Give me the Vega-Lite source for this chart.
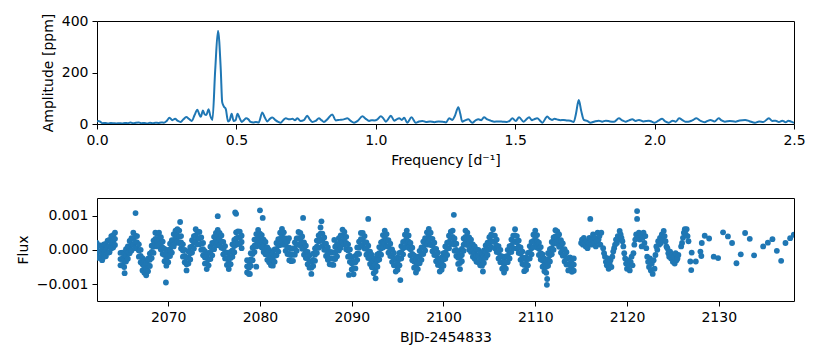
{
  "$schema": "https://vega.github.io/schema/vega-lite/v6.json",
  "padding": {"left": 15, "top": 12, "right": 5, "bottom": 5},
  "spacing": 29,
  "config": {
    "font": "DejaVu Sans",
    "view": {"stroke": "black", "strokeWidth": 1},
    "axis": {"grid": false, "domain": false, "tickColor": "black", "tickSize": 5, "tickWidth": 1, "labelFontSize": 14, "labelColor": "black", "titleFontSize": 14, "titleFontWeight": "normal", "titleColor": "black", "labelPadding": 4, "titlePadding": 6, "labelFlush": false, "labelOverlap": false}
  },
  "datasets": {
    "pg": [
      {"freq":0.000,"amp":8},{"freq":0.005,"amp":12},{"freq":0.010,"amp":10},{"freq":0.015,"amp":6},{"freq":0.020,"amp":3},{"freq":0.030,"amp":4},{"freq":0.040,"amp":2},{"freq":0.050,"amp":4},{"freq":0.060,"amp":3},{"freq":0.070,"amp":2},{"freq":0.080,"amp":3},{"freq":0.090,"amp":2},{"freq":0.100,"amp":4},{"freq":0.110,"amp":3},{"freq":0.120,"amp":6},{"freq":0.130,"amp":3},{"freq":0.140,"amp":5},{"freq":0.150,"amp":6},{"freq":0.160,"amp":3},{"freq":0.170,"amp":4},{"freq":0.180,"amp":2},{"freq":0.190,"amp":5},{"freq":0.200,"amp":3},{"freq":0.210,"amp":5},{"freq":0.220,"amp":4},{"freq":0.230,"amp":6},{"freq":0.240,"amp":5},{"freq":0.250,"amp":12},{"freq":0.260,"amp":24},{"freq":0.270,"amp":15},{"freq":0.280,"amp":20},{"freq":0.290,"amp":12},{"freq":0.300,"amp":8},{"freq":0.310,"amp":18},{"freq":0.320,"amp":27},{"freq":0.330,"amp":20},{"freq":0.340,"amp":12},{"freq":0.350,"amp":35},{"freq":0.360,"amp":55},{"freq":0.366,"amp":40},{"freq":0.372,"amp":28},{"freq":0.380,"amp":52},{"freq":0.386,"amp":38},{"freq":0.392,"amp":35},{"freq":0.400,"amp":57},{"freq":0.407,"amp":30},{"freq":0.414,"amp":16},{"freq":0.424,"amp":210},{"freq":0.434,"amp":362},{"freq":0.444,"amp":210},{"freq":0.449,"amp":85},{"freq":0.455,"amp":68},{"freq":0.462,"amp":58},{"freq":0.470,"amp":10},{"freq":0.476,"amp":15},{"freq":0.483,"amp":40},{"freq":0.490,"amp":12},{"freq":0.497,"amp":15},{"freq":0.504,"amp":40},{"freq":0.512,"amp":22},{"freq":0.519,"amp":8},{"freq":0.527,"amp":15},{"freq":0.535,"amp":22},{"freq":0.543,"amp":18},{"freq":0.551,"amp":8},{"freq":0.560,"amp":6},{"freq":0.570,"amp":8},{"freq":0.580,"amp":6},{"freq":0.593,"amp":45},{"freq":0.602,"amp":25},{"freq":0.611,"amp":10},{"freq":0.620,"amp":20},{"freq":0.629,"amp":25},{"freq":0.640,"amp":15},{"freq":0.650,"amp":8},{"freq":0.659,"amp":5},{"freq":0.668,"amp":15},{"freq":0.677,"amp":22},{"freq":0.690,"amp":18},{"freq":0.701,"amp":20},{"freq":0.710,"amp":15},{"freq":0.719,"amp":22},{"freq":0.730,"amp":12},{"freq":0.742,"amp":15},{"freq":0.754,"amp":32},{"freq":0.763,"amp":18},{"freq":0.772,"amp":8},{"freq":0.784,"amp":12},{"freq":0.796,"amp":22},{"freq":0.805,"amp":15},{"freq":0.814,"amp":8},{"freq":0.826,"amp":18},{"freq":0.844,"amp":37},{"freq":0.856,"amp":14},{"freq":0.870,"amp":16},{"freq":0.885,"amp":18},{"freq":0.898,"amp":22},{"freq":0.910,"amp":12},{"freq":0.922,"amp":5},{"freq":0.935,"amp":12},{"freq":0.952,"amp":30},{"freq":0.964,"amp":20},{"freq":0.976,"amp":12},{"freq":0.985,"amp":15},{"freq":0.994,"amp":14},{"freq":1.006,"amp":18},{"freq":1.018,"amp":30},{"freq":1.027,"amp":22},{"freq":1.036,"amp":9},{"freq":1.045,"amp":20},{"freq":1.054,"amp":32},{"freq":1.066,"amp":13},{"freq":1.075,"amp":18},{"freq":1.084,"amp":22},{"freq":1.093,"amp":16},{"freq":1.102,"amp":24},{"freq":1.113,"amp":5},{"freq":1.128,"amp":26},{"freq":1.143,"amp":5},{"freq":1.155,"amp":10},{"freq":1.167,"amp":12},{"freq":1.180,"amp":8},{"freq":1.195,"amp":10},{"freq":1.210,"amp":7},{"freq":1.225,"amp":10},{"freq":1.240,"amp":9},{"freq":1.252,"amp":6},{"freq":1.263,"amp":22},{"freq":1.275,"amp":16},{"freq":1.283,"amp":30},{"freq":1.296,"amp":65},{"freq":1.303,"amp":40},{"freq":1.310,"amp":9},{"freq":1.320,"amp":14},{"freq":1.332,"amp":18},{"freq":1.346,"amp":5},{"freq":1.358,"amp":14},{"freq":1.368,"amp":18},{"freq":1.378,"amp":15},{"freq":1.388,"amp":26},{"freq":1.400,"amp":18},{"freq":1.412,"amp":13},{"freq":1.425,"amp":9},{"freq":1.440,"amp":10},{"freq":1.455,"amp":9},{"freq":1.470,"amp":8},{"freq":1.480,"amp":12},{"freq":1.490,"amp":22},{"freq":1.502,"amp":12},{"freq":1.514,"amp":26},{"freq":1.530,"amp":9},{"freq":1.540,"amp":18},{"freq":1.550,"amp":26},{"freq":1.560,"amp":15},{"freq":1.567,"amp":18},{"freq":1.579,"amp":22},{"freq":1.590,"amp":12},{"freq":1.597,"amp":5},{"freq":1.615,"amp":29},{"freq":1.624,"amp":20},{"freq":1.632,"amp":16},{"freq":1.641,"amp":20},{"freq":1.650,"amp":18},{"freq":1.662,"amp":15},{"freq":1.674,"amp":16},{"freq":1.686,"amp":14},{"freq":1.698,"amp":13},{"freq":1.710,"amp":8},{"freq":1.718,"amp":40},{"freq":1.728,"amp":93},{"freq":1.737,"amp":50},{"freq":1.746,"amp":16},{"freq":1.758,"amp":12},{"freq":1.770,"amp":5},{"freq":1.785,"amp":10},{"freq":1.800,"amp":13},{"freq":1.812,"amp":9},{"freq":1.825,"amp":13},{"freq":1.840,"amp":10},{"freq":1.855,"amp":9},{"freq":1.872,"amp":22},{"freq":1.884,"amp":14},{"freq":1.896,"amp":9},{"freq":1.908,"amp":14},{"freq":1.920,"amp":18},{"freq":1.932,"amp":12},{"freq":1.944,"amp":16},{"freq":1.960,"amp":10},{"freq":1.980,"amp":13},{"freq":1.990,"amp":9},{"freq":2.000,"amp":5},{"freq":2.014,"amp":13},{"freq":2.027,"amp":20},{"freq":2.038,"amp":10},{"freq":2.050,"amp":5},{"freq":2.065,"amp":13},{"freq":2.076,"amp":9},{"freq":2.088,"amp":22},{"freq":2.100,"amp":15},{"freq":2.110,"amp":9},{"freq":2.120,"amp":9},{"freq":2.135,"amp":14},{"freq":2.150,"amp":22},{"freq":2.165,"amp":12},{"freq":2.180,"amp":7},{"freq":2.190,"amp":12},{"freq":2.200,"amp":16},{"freq":2.215,"amp":10},{"freq":2.230,"amp":22},{"freq":2.240,"amp":14},{"freq":2.252,"amp":9},{"freq":2.270,"amp":12},{"freq":2.290,"amp":9},{"freq":2.305,"amp":14},{"freq":2.325,"amp":16},{"freq":2.340,"amp":11},{"freq":2.360,"amp":5},{"freq":2.375,"amp":10},{"freq":2.390,"amp":8},{"freq":2.410,"amp":22},{"freq":2.422,"amp":12},{"freq":2.434,"amp":13},{"freq":2.446,"amp":8},{"freq":2.458,"amp":13},{"freq":2.470,"amp":7},{"freq":2.480,"amp":13},{"freq":2.490,"amp":9},{"freq":2.500,"amp":5}
    ],
    "lc": [
      {"t":2062.2,"flux":0.0002},{"t":2062.2,"flux":0.00002},{"t":2062.2,"flux":-0.00016},
      {"t":2062.4,"flux":0.00013},{"t":2062.4,"flux":-0.00005},{"t":2062.4,"flux":-0.00023},
      {"t":2062.6,"flux":0.00013},{"t":2062.6,"flux":-0.00005},{"t":2062.6,"flux":-0.00023},
      {"t":2062.8,"flux":0.00006},{"t":2062.8,"flux":-0.00012},{"t":2062.8,"flux":-0.0003},
      {"t":2063.0,"flux":0.00016},{"t":2063.0,"flux":-0.00002},{"t":2063.0,"flux":-0.0002},
      {"t":2063.2,"flux":0.00017},{"t":2063.2,"flux":-0.00001},{"t":2063.2,"flux":-0.00019},
      {"t":2063.4,"flux":0.00027},{"t":2063.4,"flux":0.00009},{"t":2063.4,"flux":-0.00009},
      {"t":2063.6,"flux":0.00029},{"t":2063.6,"flux":0.00011},{"t":2063.6,"flux":-0.00007},
      {"t":2063.8,"flux":0.0004},{"t":2063.8,"flux":0.00022},{"t":2063.8,"flux":0.00004},
      {"t":2064.0,"flux":0.00043},{"t":2064.0,"flux":0.00025},{"t":2064.0,"flux":0.00007},
      {"t":2064.2,"flux":0.0005},{"t":2064.2,"flux":0.00032},{"t":2064.2,"flux":0.00014},
      {"t":2064.8,"flux":-0.00009},{"t":2064.8,"flux":-0.00027},{"t":2064.8,"flux":-0.00045},
      {"t":2065.0,"flux":-0.00008},{"t":2065.0,"flux":-0.00026},{"t":2065.0,"flux":-0.00044},
      {"t":2065.2,"flux":-0.00014},{"t":2065.2,"flux":-0.00032},{"t":2065.2,"flux":-0.0005},
      {"t":2065.4,"flux":0.00002},{"t":2065.4,"flux":-0.00016},{"t":2065.4,"flux":-0.00034},
      {"t":2065.6,"flux":0.0001},{"t":2065.6,"flux":-0.00008},{"t":2065.6,"flux":-0.00026},
      {"t":2065.8,"flux":0.00026},{"t":2065.8,"flux":0.00008},{"t":2065.8,"flux":-0.0001},
      {"t":2066.0,"flux":0.00034},{"t":2066.0,"flux":0.00016},{"t":2066.0,"flux":-0.00002},
      {"t":2066.2,"flux":0.0005},{"t":2066.2,"flux":0.00032},{"t":2066.2,"flux":0.00014},
      {"t":2066.4,"flux":0.00041},{"t":2066.4,"flux":0.00023},{"t":2066.4,"flux":0.00005},
      {"t":2066.6,"flux":0.0004},{"t":2066.6,"flux":0.00022},{"t":2066.6,"flux":0.00004},
      {"t":2066.8,"flux":0.00016},{"t":2066.8,"flux":-0.00002},{"t":2066.8,"flux":-0.0002},
      {"t":2067.0,"flux":0},{"t":2067.0,"flux":-0.00018},{"t":2067.0,"flux":-0.00036},
      {"t":2067.2,"flux":-0.00024},{"t":2067.2,"flux":-0.00042},{"t":2067.2,"flux":-0.0006},
      {"t":2067.4,"flux":-0.00031},{"t":2067.4,"flux":-0.00049},{"t":2067.4,"flux":-0.00067},
      {"t":2067.6,"flux":-0.00038},{"t":2067.6,"flux":-0.00056},{"t":2067.6,"flux":-0.00074},
      {"t":2067.8,"flux":-0.00026},{"t":2067.8,"flux":-0.00044},{"t":2067.8,"flux":-0.00062},
      {"t":2068.0,"flux":-0.00011},{"t":2068.0,"flux":-0.00029},{"t":2068.0,"flux":-0.00047},
      {"t":2068.2,"flux":0.00012},{"t":2068.2,"flux":-0.00006},{"t":2068.2,"flux":-0.00024},
      {"t":2068.4,"flux":0.00027},{"t":2068.4,"flux":0.00009},{"t":2068.4,"flux":-0.00009},
      {"t":2068.6,"flux":0.0005},{"t":2068.6,"flux":0.00032},{"t":2068.6,"flux":0.00014},
      {"t":2068.8,"flux":0.00046},{"t":2068.8,"flux":0.00028},{"t":2068.8,"flux":0.0001},
      {"t":2069.0,"flux":0.0005},{"t":2069.0,"flux":0.00032},{"t":2069.0,"flux":0.00014},
      {"t":2069.2,"flux":0.00037},{"t":2069.2,"flux":0.00019},{"t":2069.2,"flux":0.00001},
      {"t":2069.4,"flux":0.00024},{"t":2069.4,"flux":0.00006},{"t":2069.4,"flux":-0.00012},
      {"t":2069.6,"flux":0.00003},{"t":2069.6,"flux":-0.00015},{"t":2069.6,"flux":-0.00033},
      {"t":2069.8,"flux":-0.0001},{"t":2069.8,"flux":-0.00028},{"t":2069.8,"flux":-0.00046},
      {"t":2070.0,"flux":0},{"t":2070.0,"flux":-0.00018},{"t":2070.0,"flux":-0.00036},
      {"t":2070.2,"flux":0.00018},{"t":2070.2,"flux":0},{"t":2070.2,"flux":-0.00018},
      {"t":2070.4,"flux":0.00028},{"t":2070.4,"flux":0.0001},{"t":2070.4,"flux":-0.00008},
      {"t":2070.6,"flux":0.00046},{"t":2070.6,"flux":0.00028},{"t":2070.6,"flux":0.0001},
      {"t":2070.8,"flux":0.00056},{"t":2070.8,"flux":0.00038},{"t":2070.8,"flux":0.0002},
      {"t":2071.0,"flux":0.0006},{"t":2071.0,"flux":0.00042},{"t":2071.0,"flux":0.00024},
      {"t":2071.2,"flux":0.00056},{"t":2071.2,"flux":0.00038},{"t":2071.2,"flux":0.0002},
      {"t":2071.4,"flux":0.0004},{"t":2071.4,"flux":0.00022},{"t":2071.4,"flux":0.00004},
      {"t":2071.6,"flux":0.00016},{"t":2071.6,"flux":-0.00002},{"t":2071.6,"flux":-0.0002},
      {"t":2071.8,"flux":0},{"t":2071.8,"flux":-0.00018},{"t":2071.8,"flux":-0.00036},
      {"t":2072.0,"flux":-0.00024},{"t":2072.0,"flux":-0.00042},{"t":2072.0,"flux":-0.0006},
      {"t":2072.2,"flux":-0.00004},{"t":2072.2,"flux":-0.00022},{"t":2072.2,"flux":-0.0004},
      {"t":2072.4,"flux":0.00008},{"t":2072.4,"flux":-0.0001},{"t":2072.4,"flux":-0.00028},
      {"t":2072.6,"flux":0.00028},{"t":2072.6,"flux":0.0001},{"t":2072.6,"flux":-0.00008},
      {"t":2072.8,"flux":0.0004},{"t":2072.8,"flux":0.00022},{"t":2072.8,"flux":0.00004},
      {"t":2073.0,"flux":0.0006},{"t":2073.0,"flux":0.00042},{"t":2073.0,"flux":0.00024},
      {"t":2073.2,"flux":0.00052},{"t":2073.2,"flux":0.00034},{"t":2073.2,"flux":0.00016},
      {"t":2073.4,"flux":0.00052},{"t":2073.4,"flux":0.00034},{"t":2073.4,"flux":0.00016},
      {"t":2073.6,"flux":0.00036},{"t":2073.6,"flux":0.00018},{"t":2073.6,"flux":0},
      {"t":2073.8,"flux":0.0002},{"t":2073.8,"flux":0.00002},{"t":2073.8,"flux":-0.00016},
      {"t":2074.0,"flux":-0.00004},{"t":2074.0,"flux":-0.00022},{"t":2074.0,"flux":-0.0004},
      {"t":2074.2,"flux":-0.0002},{"t":2074.2,"flux":-0.00038},{"t":2074.2,"flux":-0.00056},
      {"t":2074.4,"flux":-0.00009},{"t":2074.4,"flux":-0.00027},{"t":2074.4,"flux":-0.00045},
      {"t":2074.6,"flux":0.00009},{"t":2074.6,"flux":-0.00009},{"t":2074.6,"flux":-0.00027},
      {"t":2074.8,"flux":0.0002},{"t":2074.8,"flux":0.00002},{"t":2074.8,"flux":-0.00016},
      {"t":2075.0,"flux":0.00038},{"t":2075.0,"flux":0.0002},{"t":2075.0,"flux":0.00002},
      {"t":2075.2,"flux":0.00049},{"t":2075.2,"flux":0.00031},{"t":2075.2,"flux":0.00013},
      {"t":2075.4,"flux":0.00058},{"t":2075.4,"flux":0.0004},{"t":2075.4,"flux":0.00022},
      {"t":2075.6,"flux":0.00049},{"t":2075.6,"flux":0.00031},{"t":2075.6,"flux":0.00013},
      {"t":2075.8,"flux":0.00042},{"t":2075.8,"flux":0.00024},{"t":2075.8,"flux":0.00006},
      {"t":2076.0,"flux":0.00023},{"t":2076.0,"flux":0.00005},{"t":2076.0,"flux":-0.00013},
      {"t":2076.2,"flux":0.00011},{"t":2076.2,"flux":-0.00007},{"t":2076.2,"flux":-0.00025},
      {"t":2076.4,"flux":-0.00008},{"t":2076.4,"flux":-0.00026},{"t":2076.4,"flux":-0.00044},
      {"t":2076.6,"flux":-0.0002},{"t":2076.6,"flux":-0.00038},{"t":2076.6,"flux":-0.00056},
      {"t":2076.8,"flux":-0.00006},{"t":2076.8,"flux":-0.00024},{"t":2076.8,"flux":-0.00042},
      {"t":2077.0,"flux":0.00016},{"t":2077.0,"flux":-0.00002},{"t":2077.0,"flux":-0.0002},
      {"t":2077.2,"flux":0.00029},{"t":2077.2,"flux":0.00011},{"t":2077.2,"flux":-0.00007},
      {"t":2077.4,"flux":0.00051},{"t":2077.4,"flux":0.00033},{"t":2077.4,"flux":0.00015},
      {"t":2077.6,"flux":0.00054},{"t":2077.6,"flux":0.00036},{"t":2077.6,"flux":0.00018},
      {"t":2077.8,"flux":0.00053},{"t":2077.8,"flux":0.00035},{"t":2077.8,"flux":0.00017},
      {"t":2078.0,"flux":0.00041},{"t":2078.0,"flux":0.00023},{"t":2078.0,"flux":0.00005},
      {"t":2078.6,"flux":-0.0003},{"t":2078.6,"flux":-0.00048},{"t":2078.6,"flux":-0.00066},
      {"t":2078.8,"flux":-0.00034},{"t":2078.8,"flux":-0.00052},{"t":2078.8,"flux":-0.0007},
      {"t":2079.0,"flux":-0.0001},{"t":2079.0,"flux":-0.00028},{"t":2079.0,"flux":-0.00046},
      {"t":2079.2,"flux":0.00006},{"t":2079.2,"flux":-0.00012},{"t":2079.2,"flux":-0.0003},
      {"t":2079.4,"flux":0.0003},{"t":2079.4,"flux":0.00012},{"t":2079.4,"flux":-0.00006},
      {"t":2079.6,"flux":0.00046},{"t":2079.6,"flux":0.00028},{"t":2079.6,"flux":0.0001},
      {"t":2079.8,"flux":0.00058},{"t":2079.8,"flux":0.0004},{"t":2079.8,"flux":0.00022},
      {"t":2080.0,"flux":0.00047},{"t":2080.0,"flux":0.00029},{"t":2080.0,"flux":0.00011},
      {"t":2080.2,"flux":0.00043},{"t":2080.2,"flux":0.00025},{"t":2080.2,"flux":0.00007},
      {"t":2080.4,"flux":0.0003},{"t":2080.4,"flux":0.00012},{"t":2080.4,"flux":-0.00006},
      {"t":2080.6,"flux":0.00023},{"t":2080.6,"flux":0.00005},{"t":2080.6,"flux":-0.00013},
      {"t":2080.8,"flux":0.00007},{"t":2080.8,"flux":-0.00011},{"t":2080.8,"flux":-0.00029},
      {"t":2081.0,"flux":0},{"t":2081.0,"flux":-0.00018},{"t":2081.0,"flux":-0.00036},
      {"t":2081.2,"flux":-0.00009},{"t":2081.2,"flux":-0.00027},{"t":2081.2,"flux":-0.00045},
      {"t":2081.4,"flux":-0.0001},{"t":2081.4,"flux":-0.00028},{"t":2081.4,"flux":-0.00046},
      {"t":2081.6,"flux":0.00001},{"t":2081.6,"flux":-0.00017},{"t":2081.6,"flux":-0.00035},
      {"t":2081.8,"flux":0.0002},{"t":2081.8,"flux":0.00002},{"t":2081.8,"flux":-0.00016},
      {"t":2082.0,"flux":0.00031},{"t":2082.0,"flux":0.00013},{"t":2082.0,"flux":-0.00005},
      {"t":2082.2,"flux":0.0005},{"t":2082.2,"flux":0.00032},{"t":2082.2,"flux":0.00014},
      {"t":2082.4,"flux":0.00061},{"t":2082.4,"flux":0.00043},{"t":2082.4,"flux":0.00025},
      {"t":2082.6,"flux":0.00051},{"t":2082.6,"flux":0.00033},{"t":2082.6,"flux":0.00015},
      {"t":2082.8,"flux":0.00033},{"t":2082.8,"flux":0.00015},{"t":2082.8,"flux":-0.00003},
      {"t":2083.0,"flux":0.00024},{"t":2083.0,"flux":0.00006},{"t":2083.0,"flux":-0.00012},
      {"t":2083.2,"flux":0.00006},{"t":2083.2,"flux":-0.00012},{"t":2083.2,"flux":-0.0003},
      {"t":2083.4,"flux":0.00003},{"t":2083.4,"flux":-0.00015},{"t":2083.4,"flux":-0.00033},
      {"t":2083.6,"flux":0.00004},{"t":2083.6,"flux":-0.00014},{"t":2083.6,"flux":-0.00032},
      {"t":2083.8,"flux":0.00022},{"t":2083.8,"flux":0.00004},{"t":2083.8,"flux":-0.00014},
      {"t":2084.0,"flux":0.00033},{"t":2084.0,"flux":0.00015},{"t":2084.0,"flux":-0.00003},
      {"t":2084.2,"flux":0.00052},{"t":2084.2,"flux":0.00034},{"t":2084.2,"flux":0.00016},
      {"t":2084.4,"flux":0.00049},{"t":2084.4,"flux":0.00031},{"t":2084.4,"flux":0.00013},
      {"t":2084.6,"flux":0.00039},{"t":2084.6,"flux":0.00021},{"t":2084.6,"flux":0.00003},
      {"t":2084.8,"flux":0.00022},{"t":2084.8,"flux":0.00004},{"t":2084.8,"flux":-0.00014},
      {"t":2085.0,"flux":0.00012},{"t":2085.0,"flux":-0.00006},{"t":2085.0,"flux":-0.00024},
      {"t":2085.2,"flux":-0.00006},{"t":2085.2,"flux":-0.00024},{"t":2085.2,"flux":-0.00042},
      {"t":2085.4,"flux":-0.00016},{"t":2085.4,"flux":-0.00034},{"t":2085.4,"flux":-0.00052},
      {"t":2085.6,"flux":-0.00034},{"t":2085.6,"flux":-0.00052},{"t":2085.6,"flux":-0.0007},
      {"t":2085.8,"flux":-0.00011},{"t":2085.8,"flux":-0.00029},{"t":2085.8,"flux":-0.00047},
      {"t":2086.0,"flux":0.00004},{"t":2086.0,"flux":-0.00014},{"t":2086.0,"flux":-0.00032},
      {"t":2086.2,"flux":0.00027},{"t":2086.2,"flux":0.00009},{"t":2086.2,"flux":-0.00009},
      {"t":2086.4,"flux":0.00042},{"t":2086.4,"flux":0.00024},{"t":2086.4,"flux":0.00006},
      {"t":2086.6,"flux":0.00065},{"t":2086.6,"flux":0.00047},{"t":2086.6,"flux":0.00029},
      {"t":2086.8,"flux":0.00047},{"t":2086.8,"flux":0.00029},{"t":2086.8,"flux":0.00011},
      {"t":2087.0,"flux":0.00036},{"t":2087.0,"flux":0.00018},{"t":2087.0,"flux":0},
      {"t":2087.2,"flux":0.00018},{"t":2087.2,"flux":0},{"t":2087.2,"flux":-0.00018},
      {"t":2087.4,"flux":0.00007},{"t":2087.4,"flux":-0.00011},{"t":2087.4,"flux":-0.00029},
      {"t":2087.6,"flux":-0.00006},{"t":2087.6,"flux":-0.00024},{"t":2087.6,"flux":-0.00042},
      {"t":2087.8,"flux":-0.00007},{"t":2087.8,"flux":-0.00025},{"t":2087.8,"flux":-0.00043},
      {"t":2088.0,"flux":-0.00008},{"t":2088.0,"flux":-0.00026},{"t":2088.0,"flux":-0.00044},
      {"t":2088.2,"flux":0.00009},{"t":2088.2,"flux":-0.00009},{"t":2088.2,"flux":-0.00027},
      {"t":2088.4,"flux":0.00017},{"t":2088.4,"flux":-0.00001},{"t":2088.4,"flux":-0.00019},
      {"t":2088.6,"flux":0.00034},{"t":2088.6,"flux":0.00016},{"t":2088.6,"flux":-0.00002},
      {"t":2088.8,"flux":0.00042},{"t":2088.8,"flux":0.00024},{"t":2088.8,"flux":0.00006},
      {"t":2089.0,"flux":0.00059},{"t":2089.0,"flux":0.00041},{"t":2089.0,"flux":0.00023},
      {"t":2089.2,"flux":0.00052},{"t":2089.2,"flux":0.00034},{"t":2089.2,"flux":0.00016},
      {"t":2089.4,"flux":0.00038},{"t":2089.4,"flux":0.0002},{"t":2089.4,"flux":0.00002},
      {"t":2089.6,"flux":0.00016},{"t":2089.6,"flux":-0.00002},{"t":2089.6,"flux":-0.0002},
      {"t":2089.8,"flux":0.00001},{"t":2089.8,"flux":-0.00017},{"t":2089.8,"flux":-0.00035},
      {"t":2090.0,"flux":-0.00021},{"t":2090.0,"flux":-0.00039},{"t":2090.0,"flux":-0.00057},
      {"t":2090.2,"flux":-0.00035},{"t":2090.2,"flux":-0.00053},{"t":2090.2,"flux":-0.00071},
      {"t":2090.4,"flux":-0.00018},{"t":2090.4,"flux":-0.00036},{"t":2090.4,"flux":-0.00054},
      {"t":2090.6,"flux":0.00007},{"t":2090.6,"flux":-0.00011},{"t":2090.6,"flux":-0.00029},
      {"t":2090.8,"flux":0.00024},{"t":2090.8,"flux":0.00006},{"t":2090.8,"flux":-0.00012},
      {"t":2091.0,"flux":0.00049},{"t":2091.0,"flux":0.00031},{"t":2091.0,"flux":0.00013},
      {"t":2091.2,"flux":0.00049},{"t":2091.2,"flux":0.00031},{"t":2091.2,"flux":0.00013},
      {"t":2091.4,"flux":0.0004},{"t":2091.4,"flux":0.00022},{"t":2091.4,"flux":0.00004},
      {"t":2091.6,"flux":0.00022},{"t":2091.6,"flux":0.00004},{"t":2091.6,"flux":-0.00014},
      {"t":2091.8,"flux":0.00012},{"t":2091.8,"flux":-0.00006},{"t":2091.8,"flux":-0.00024},
      {"t":2092.0,"flux":-0.00005},{"t":2092.0,"flux":-0.00023},{"t":2092.0,"flux":-0.00041},
      {"t":2092.2,"flux":-0.00015},{"t":2092.2,"flux":-0.00033},{"t":2092.2,"flux":-0.00051},
      {"t":2092.4,"flux":-0.00032},{"t":2092.4,"flux":-0.0005},{"t":2092.4,"flux":-0.00068},
      {"t":2092.6,"flux":-0.00026},{"t":2092.6,"flux":-0.00044},{"t":2092.6,"flux":-0.00062},
      {"t":2092.8,"flux":-0.00013},{"t":2092.8,"flux":-0.00031},{"t":2092.8,"flux":-0.00049},
      {"t":2093.0,"flux":0.00008},{"t":2093.0,"flux":-0.0001},{"t":2093.0,"flux":-0.00028},
      {"t":2093.2,"flux":0.00022},{"t":2093.2,"flux":0.00004},{"t":2093.2,"flux":-0.00014},
      {"t":2093.4,"flux":0.00043},{"t":2093.4,"flux":0.00025},{"t":2093.4,"flux":0.00007},
      {"t":2093.6,"flux":0.00056},{"t":2093.6,"flux":0.00038},{"t":2093.6,"flux":0.0002},
      {"t":2093.8,"flux":0.00046},{"t":2093.8,"flux":0.00028},{"t":2093.8,"flux":0.0001},
      {"t":2094.0,"flux":0.00028},{"t":2094.0,"flux":0.0001},{"t":2094.0,"flux":-0.00008},
      {"t":2094.2,"flux":0.00018},{"t":2094.2,"flux":0},{"t":2094.2,"flux":-0.00018},
      {"t":2094.4,"flux":0.00001},{"t":2094.4,"flux":-0.00017},{"t":2094.4,"flux":-0.00035},
      {"t":2094.6,"flux":-0.00009},{"t":2094.6,"flux":-0.00027},{"t":2094.6,"flux":-0.00045},
      {"t":2094.8,"flux":-0.00027},{"t":2094.8,"flux":-0.00045},{"t":2094.8,"flux":-0.00063},
      {"t":2095.0,"flux":-0.00022},{"t":2095.0,"flux":-0.0004},{"t":2095.0,"flux":-0.00058},
      {"t":2095.2,"flux":-0.00009},{"t":2095.2,"flux":-0.00027},{"t":2095.2,"flux":-0.00045},
      {"t":2095.4,"flux":0.00011},{"t":2095.4,"flux":-0.00007},{"t":2095.4,"flux":-0.00025},
      {"t":2095.6,"flux":0.00023},{"t":2095.6,"flux":0.00005},{"t":2095.6,"flux":-0.00013},
      {"t":2095.8,"flux":0.00044},{"t":2095.8,"flux":0.00026},{"t":2095.8,"flux":0.00008},
      {"t":2096.0,"flux":0.00056},{"t":2096.0,"flux":0.00038},{"t":2096.0,"flux":0.0002},
      {"t":2096.2,"flux":0.00042},{"t":2096.2,"flux":0.00024},{"t":2096.2,"flux":0.00006},
      {"t":2096.4,"flux":0.0002},{"t":2096.4,"flux":0.00002},{"t":2096.4,"flux":-0.00016},
      {"t":2096.6,"flux":0.00006},{"t":2096.6,"flux":-0.00012},{"t":2096.6,"flux":-0.0003},
      {"t":2096.8,"flux":-0.00016},{"t":2096.8,"flux":-0.00034},{"t":2096.8,"flux":-0.00052},
      {"t":2097.0,"flux":-0.0003},{"t":2097.0,"flux":-0.00048},{"t":2097.0,"flux":-0.00066},
      {"t":2097.2,"flux":-0.0002},{"t":2097.2,"flux":-0.00038},{"t":2097.2,"flux":-0.00056},
      {"t":2097.4,"flux":-0.00003},{"t":2097.4,"flux":-0.00021},{"t":2097.4,"flux":-0.00039},
      {"t":2097.6,"flux":0.00007},{"t":2097.6,"flux":-0.00011},{"t":2097.6,"flux":-0.00029},
      {"t":2097.8,"flux":0.00024},{"t":2097.8,"flux":0.00006},{"t":2097.8,"flux":-0.00012},
      {"t":2098.0,"flux":0.00034},{"t":2098.0,"flux":0.00016},{"t":2098.0,"flux":-0.00002},
      {"t":2098.2,"flux":0.00051},{"t":2098.2,"flux":0.00033},{"t":2098.2,"flux":0.00015},
      {"t":2098.4,"flux":0.00061},{"t":2098.4,"flux":0.00043},{"t":2098.4,"flux":0.00025},
      {"t":2098.6,"flux":0.0005},{"t":2098.6,"flux":0.00032},{"t":2098.6,"flux":0.00014},
      {"t":2098.8,"flux":0.00032},{"t":2098.8,"flux":0.00014},{"t":2098.8,"flux":-0.00004},
      {"t":2099.0,"flux":0.00021},{"t":2099.0,"flux":0.00003},{"t":2099.0,"flux":-0.00015},
      {"t":2099.2,"flux":0.00003},{"t":2099.2,"flux":-0.00015},{"t":2099.2,"flux":-0.00033},
      {"t":2099.4,"flux":-0.00008},{"t":2099.4,"flux":-0.00026},{"t":2099.4,"flux":-0.00044},
      {"t":2099.6,"flux":-0.00027},{"t":2099.6,"flux":-0.00045},{"t":2099.6,"flux":-0.00063},
      {"t":2099.8,"flux":-0.00022},{"t":2099.8,"flux":-0.0004},{"t":2099.8,"flux":-0.00058},
      {"t":2100.0,"flux":-0.0001},{"t":2100.0,"flux":-0.00028},{"t":2100.0,"flux":-0.00046},
      {"t":2100.2,"flux":0.0001},{"t":2100.2,"flux":-0.00008},{"t":2100.2,"flux":-0.00026},
      {"t":2100.4,"flux":0.00021},{"t":2100.4,"flux":0.00003},{"t":2100.4,"flux":-0.00015},
      {"t":2100.6,"flux":0.00041},{"t":2100.6,"flux":0.00023},{"t":2100.6,"flux":0.00005},
      {"t":2100.8,"flux":0.00053},{"t":2100.8,"flux":0.00035},{"t":2100.8,"flux":0.00017},
      {"t":2101.0,"flux":0.00056},{"t":2101.0,"flux":0.00038},{"t":2101.0,"flux":0.0002},
      {"t":2101.2,"flux":0.00033},{"t":2101.2,"flux":0.00015},{"t":2101.2,"flux":-0.00003},
      {"t":2101.4,"flux":0.00018},{"t":2101.4,"flux":0},{"t":2101.4,"flux":-0.00018},
      {"t":2101.6,"flux":-0.00005},{"t":2101.6,"flux":-0.00023},{"t":2101.6,"flux":-0.00041},
      {"t":2101.8,"flux":-0.0002},{"t":2101.8,"flux":-0.00038},{"t":2101.8,"flux":-0.00056},
      {"t":2102.0,"flux":0.00003},{"t":2102.0,"flux":-0.00015},{"t":2102.0,"flux":-0.00033},
      {"t":2102.2,"flux":0.00033},{"t":2102.2,"flux":0.00015},{"t":2102.2,"flux":-0.00003},
      {"t":2102.4,"flux":0.00056},{"t":2102.4,"flux":0.00038},{"t":2102.4,"flux":0.0002},
      {"t":2102.6,"flux":0.0005},{"t":2102.6,"flux":0.00032},{"t":2102.6,"flux":0.00014},
      {"t":2102.8,"flux":0.00036},{"t":2102.8,"flux":0.00018},{"t":2102.8,"flux":0},
      {"t":2103.0,"flux":0.0003},{"t":2103.0,"flux":0.00012},{"t":2103.0,"flux":-0.00006},
      {"t":2103.2,"flux":0.00016},{"t":2103.2,"flux":-0.00002},{"t":2103.2,"flux":-0.0002},
      {"t":2103.4,"flux":0.0001},{"t":2103.4,"flux":-0.00008},{"t":2103.4,"flux":-0.00026},
      {"t":2103.6,"flux":0.00001},{"t":2103.6,"flux":-0.00017},{"t":2103.6,"flux":-0.00035},
      {"t":2103.8,"flux":0},{"t":2103.8,"flux":-0.00018},{"t":2103.8,"flux":-0.00036},
      {"t":2104.0,"flux":-0.00009},{"t":2104.0,"flux":-0.00027},{"t":2104.0,"flux":-0.00045},
      {"t":2104.2,"flux":-0.0001},{"t":2104.2,"flux":-0.00028},{"t":2104.2,"flux":-0.00046},
      {"t":2104.4,"flux":-0.00002},{"t":2104.4,"flux":-0.0002},{"t":2104.4,"flux":-0.00038},
      {"t":2104.6,"flux":0.00013},{"t":2104.6,"flux":-0.00005},{"t":2104.6,"flux":-0.00023},
      {"t":2104.8,"flux":0.00021},{"t":2104.8,"flux":0.00003},{"t":2104.8,"flux":-0.00015},
      {"t":2105.0,"flux":0.00037},{"t":2105.0,"flux":0.00019},{"t":2105.0,"flux":0.00001},
      {"t":2105.2,"flux":0.00044},{"t":2105.2,"flux":0.00026},{"t":2105.2,"flux":0.00008},
      {"t":2105.4,"flux":0.0006},{"t":2105.4,"flux":0.00042},{"t":2105.4,"flux":0.00024},
      {"t":2105.6,"flux":0.00041},{"t":2105.6,"flux":0.00023},{"t":2105.6,"flux":0.00005},
      {"t":2105.8,"flux":0.0003},{"t":2105.8,"flux":0.00012},{"t":2105.8,"flux":-0.00006},
      {"t":2106.0,"flux":0.00011},{"t":2106.0,"flux":-0.00007},{"t":2106.0,"flux":-0.00025},
      {"t":2106.2,"flux":0},{"t":2106.2,"flux":-0.00018},{"t":2106.2,"flux":-0.00036},
      {"t":2106.4,"flux":-0.00019},{"t":2106.4,"flux":-0.00037},{"t":2106.4,"flux":-0.00055},
      {"t":2106.6,"flux":-0.0003},{"t":2106.6,"flux":-0.00048},{"t":2106.6,"flux":-0.00066},
      {"t":2106.8,"flux":-0.00019},{"t":2106.8,"flux":-0.00037},{"t":2106.8,"flux":-0.00055},
      {"t":2107.0,"flux":0},{"t":2107.0,"flux":-0.00018},{"t":2107.0,"flux":-0.00036},
      {"t":2107.2,"flux":0.00011},{"t":2107.2,"flux":-0.00007},{"t":2107.2,"flux":-0.00025},
      {"t":2107.4,"flux":0.0003},{"t":2107.4,"flux":0.00012},{"t":2107.4,"flux":-0.00006},
      {"t":2107.6,"flux":0.00041},{"t":2107.6,"flux":0.00023},{"t":2107.6,"flux":0.00005},
      {"t":2107.8,"flux":0.0006},{"t":2107.8,"flux":0.00042},{"t":2107.8,"flux":0.00024},
      {"t":2108.0,"flux":0.0004},{"t":2108.0,"flux":0.00022},{"t":2108.0,"flux":0.00004},
      {"t":2108.2,"flux":0.00027},{"t":2108.2,"flux":0.00009},{"t":2108.2,"flux":-0.00009},
      {"t":2108.4,"flux":0.00007},{"t":2108.4,"flux":-0.00011},{"t":2108.4,"flux":-0.00029},
      {"t":2108.6,"flux":-0.00005},{"t":2108.6,"flux":-0.00023},{"t":2108.6,"flux":-0.00041},
      {"t":2108.8,"flux":-0.00026},{"t":2108.8,"flux":-0.00044},{"t":2108.8,"flux":-0.00062},
      {"t":2109.0,"flux":-0.00022},{"t":2109.0,"flux":-0.0004},{"t":2109.0,"flux":-0.00058},
      {"t":2109.2,"flux":-0.00009},{"t":2109.2,"flux":-0.00027},{"t":2109.2,"flux":-0.00045},
      {"t":2109.4,"flux":0.00011},{"t":2109.4,"flux":-0.00007},{"t":2109.4,"flux":-0.00025},
      {"t":2109.6,"flux":0.00023},{"t":2109.6,"flux":0.00005},{"t":2109.6,"flux":-0.00013},
      {"t":2109.8,"flux":0.00044},{"t":2109.8,"flux":0.00026},{"t":2109.8,"flux":0.00008},
      {"t":2110.0,"flux":0.00056},{"t":2110.0,"flux":0.00038},{"t":2110.0,"flux":0.0002},
      {"t":2110.2,"flux":0.00043},{"t":2110.2,"flux":0.00025},{"t":2110.2,"flux":0.00007},
      {"t":2110.4,"flux":0.00021},{"t":2110.4,"flux":0.00003},{"t":2110.4,"flux":-0.00015},
      {"t":2110.6,"flux":0.00008},{"t":2110.6,"flux":-0.0001},{"t":2110.6,"flux":-0.00028},
      {"t":2110.8,"flux":-0.00013},{"t":2110.8,"flux":-0.00031},{"t":2110.8,"flux":-0.00049},
      {"t":2111.0,"flux":-0.00026},{"t":2111.0,"flux":-0.00044},{"t":2111.0,"flux":-0.00062},
      {"t":2111.2,"flux":-0.00031},{"t":2111.2,"flux":-0.00049},{"t":2111.2,"flux":-0.00067},
      {"t":2111.4,"flux":-0.0001},{"t":2111.4,"flux":-0.00028},{"t":2111.4,"flux":-0.00046},
      {"t":2111.6,"flux":0.00002},{"t":2111.6,"flux":-0.00016},{"t":2111.6,"flux":-0.00034},
      {"t":2111.8,"flux":0.00023},{"t":2111.8,"flux":0.00005},{"t":2111.8,"flux":-0.00013},
      {"t":2112.0,"flux":0.00036},{"t":2112.0,"flux":0.00018},{"t":2112.0,"flux":0},
      {"t":2112.2,"flux":0.00057},{"t":2112.2,"flux":0.00039},{"t":2112.2,"flux":0.00021},
      {"t":2112.4,"flux":0.00054},{"t":2112.4,"flux":0.00036},{"t":2112.4,"flux":0.00018},
      {"t":2112.6,"flux":0.00045},{"t":2112.6,"flux":0.00027},{"t":2112.6,"flux":0.00009},
      {"t":2112.8,"flux":0.00028},{"t":2112.8,"flux":0.0001},{"t":2112.8,"flux":-0.00008},
      {"t":2113.0,"flux":0.00019},{"t":2113.0,"flux":0.00001},{"t":2113.0,"flux":-0.00017},
      {"t":2113.2,"flux":0.00002},{"t":2113.2,"flux":-0.00016},{"t":2113.2,"flux":-0.00034},
      {"t":2113.4,"flux":-0.00007},{"t":2113.4,"flux":-0.00025},{"t":2113.4,"flux":-0.00043},
      {"t":2113.6,"flux":-0.00024},{"t":2113.6,"flux":-0.00042},{"t":2113.6,"flux":-0.0006},
      {"t":2113.8,"flux":-0.00022},{"t":2113.8,"flux":-0.0004},{"t":2113.8,"flux":-0.00058},
      {"t":2114.0,"flux":-0.00028},{"t":2114.0,"flux":-0.00046},{"t":2114.0,"flux":-0.00064},
      {"t":2114.2,"flux":-0.00025},{"t":2114.2,"flux":-0.00043},{"t":2114.2,"flux":-0.00061},
      {"t":2065.25,"flux":-0.00068},{"t":2066.44,"flux":0.00107},{"t":2069.75,"flux":-0.00095},{"t":2071.3,"flux":0.00081},{"t":2075.4,"flux":0.00098},{"t":2077.3,"flux":0.00109},{"t":2077.4,"flux":0.00105},{"t":2080.0,"flux":0.00115},{"t":2080.3,"flux":0.00093},{"t":2078.9,"flux":-0.0007},{"t":2079.6,"flux":-0.00049},{"t":2083.16,"flux":0.00034},{"t":2084.7,"flux":0.00093},{"t":2086.7,"flux":0.00083},{"t":2088.1,"flux":0.00029},{"t":2091.8,"flux":0.0009},{"t":2095.3,"flux":-0.00088},{"t":2089.7,"flux":-0.00073},{"t":2092.6,"flux":-0.00083},{"t":2101.13,"flux":0.00102},{"t":2104.3,"flux":-0.00063},{"t":2111.27,"flux":-0.00102},{"t":2111.3,"flux":-0.00085},
      {"t":2115.0,"flux":0.0002},{"t":2115.1,"flux":0.0003},{"t":2115.2,"flux":0.00015},{"t":2115.3,"flux":0.00035},{"t":2115.4,"flux":0.0002},{"t":2115.5,"flux":0.0001},{"t":2115.6,"flux":0.00025},{"t":2115.7,"flux":0.00005},{"t":2115.8,"flux":0.0002},{"t":2115.9,"flux":0.00035},{"t":2116.0,"flux":0.0009},{"t":2116.1,"flux":0.00015},{"t":2116.2,"flux":0.0003},{"t":2116.3,"flux":0.00045},{"t":2116.4,"flux":0.0002},{"t":2116.5,"flux":0.00035},{"t":2116.6,"flux":0.0001},{"t":2116.7,"flux":0.00025},{"t":2116.8,"flux":0.0005},{"t":2116.9,"flux":0.0003},{"t":2117.0,"flux":0.0004},{"t":2117.1,"flux":0.00015},{"t":2117.2,"flux":0.0005},{"t":2117.4,"flux":0.00005},{"t":2117.5,"flux":-0.0001},{"t":2117.6,"flux":-0.0002},{"t":2117.7,"flux":-0.00035},{"t":2117.8,"flux":-0.00045},{"t":2117.9,"flux":-0.00025},{"t":2118.0,"flux":-0.00055},{"t":2118.1,"flux":-0.0004},{"t":2118.2,"flux":-0.0003},{"t":2118.3,"flux":-0.0005},{"t":2118.4,"flux":-0.0002},{"t":2118.5,"flux":-0.00005},{"t":2118.6,"flux":0.00005},{"t":2118.7,"flux":0.00015},{"t":2118.8,"flux":0.0003},{"t":2118.9,"flux":0.0002},{"t":2119.0,"flux":0.0004},{"t":2119.1,"flux":0.0003},{"t":2119.2,"flux":0.00055},{"t":2119.3,"flux":0.00045},{"t":2119.4,"flux":0.00035},{"t":2119.5,"flux":0.00025},{"t":2119.6,"flux":0.0001},{"t":2119.7,"flux":-0.0001},{"t":2119.8,"flux":-0.00025},{"t":2119.9,"flux":-0.0004},{"t":2120.0,"flux":-0.00055},{"t":2120.1,"flux":-0.0003},{"t":2120.2,"flux":-0.00045},{"t":2120.3,"flux":-0.0006},{"t":2120.4,"flux":-0.00035},{"t":2120.5,"flux":-0.0002},{"t":2120.6,"flux":-0.00045},{"t":2120.7,"flux":-0.0001},{"t":2120.8,"flux":0.00015},{"t":2120.9,"flux":0.0003},{"t":2121.0,"flux":0.00045},{"t":2121.1,"flux":0.00113},{"t":2121.1,"flux":0.0009},{"t":2121.2,"flux":0.0004},{"t":2121.3,"flux":0.0005},{"t":2121.4,"flux":0.0003},{"t":2121.5,"flux":0.00045},{"t":2121.6,"flux":0.0001},{"t":2121.7,"flux":0.00035},{"t":2121.8,"flux":0.0005},{"t":2121.9,"flux":0.0002},{"t":2122.0,"flux":0.0004},{"t":2122.1,"flux":0.00005},{"t":2122.2,"flux":-0.0002},{"t":2122.3,"flux":-0.00035},{"t":2122.4,"flux":-0.0005},{"t":2122.5,"flux":-0.00025},{"t":2122.6,"flux":-0.0006},{"t":2122.7,"flux":-0.0004},{"t":2122.8,"flux":-0.0007},{"t":2122.9,"flux":-0.0003},{"t":2123.0,"flux":-0.00055},{"t":2123.1,"flux":-0.00015},{"t":2123.2,"flux":0.0001},{"t":2123.3,"flux":0},{"t":2123.4,"flux":0.00025},{"t":2123.5,"flux":0.00015},{"t":2123.6,"flux":0.00035},{"t":2123.7,"flux":0.0002},{"t":2123.8,"flux":0.00045},{"t":2123.9,"flux":0.0003},{"t":2124.0,"flux":0.00055},{"t":2124.1,"flux":0.0004},{"t":2124.2,"flux":0.00025},{"t":2124.3,"flux":0.0001},{"t":2124.4,"flux":0.00005},{"t":2124.5,"flux":-0.0001},{"t":2124.6,"flux":-0.0002},{"t":2124.7,"flux":-0.00005},{"t":2124.8,"flux":-0.00025},{"t":2124.9,"flux":-0.00015},{"t":2125.0,"flux":-0.00035},{"t":2125.1,"flux":-0.0002},{"t":2125.2,"flux":-0.0004},{"t":2125.3,"flux":-0.0001},{"t":2125.4,"flux":-0.0003},{"t":2125.5,"flux":-0.00025},{"t":2125.6,"flux":-0.00015},{"t":2125.9,"flux":0.0001},{"t":2126.0,"flux":0.0002},{"t":2126.1,"flux":0.00035},{"t":2126.2,"flux":0.0005},{"t":2126.3,"flux":0.0006},{"t":2126.4,"flux":0.00045},{"t":2126.5,"flux":0.0006},{"t":2126.6,"flux":0.0004},{"t":2126.7,"flux":0.00025},{"t":2126.9,"flux":-0.00034},{"t":2127.0,"flux":-0.00059},{"t":2127.05,"flux":-0.00008},{"t":2127.5,"flux":-0.00034},{"t":2128.0,"flux":-0.00005},{"t":2128.1,"flux":-0.00018},{"t":2128.15,"flux":0.0002},{"t":2128.47,"flux":0.00041},{"t":2128.95,"flux":0.00033},{"t":2129.45,"flux":-0.0002},{"t":2129.93,"flux":-0.00024},{"t":2130.47,"flux":0.00051},{"t":2131.0,"flux":0.00039},{"t":2131.45,"flux":0.0002},{"t":2131.93,"flux":-0.00039},{"t":2132.4,"flux":-0.00013},{"t":2132.87,"flux":0.00049},{"t":2133.38,"flux":0.00032},{"t":2133.85,"flux":-0.00016},{"t":2134.84,"flux":0.0001},{"t":2135.35,"flux":0.00021},{"t":2135.85,"flux":0.00031},{"t":2136.33,"flux":-0.00003},{"t":2136.8,"flux":-0.00032},{"t":2137.27,"flux":0.0002},{"t":2137.78,"flux":0.00034},{"t":2138.18,"flux":0.00044}
    ]
  },
  "vconcat": [
    {
      "width": 697,
      "height": 103,
      "data": {"name": "pg"},
      "mark": {"type": "line", "color": "#1f77b4", "strokeWidth": 2, "interpolate": "monotone", "clip": true},
      "encoding": {
        "x": {"field": "freq", "type": "quantitative", "scale": {"domain": [0, 2.5], "nice": false, "zero": false}, "axis": {"title": "Frequency [d⁻¹]", "values": [0, 0.5, 1, 1.5, 2, 2.5], "format": ".1f"}},
        "y": {"field": "amp", "type": "quantitative", "scale": {"domain": [0, 400], "nice": false}, "axis": {"title": "Amplitude [ppm]", "values": [0, 200, 400], "format": "d"}}
      }
    },
    {
      "width": 697,
      "height": 103,
      "data": {"name": "lc"},
      "mark": {"type": "circle", "color": "#1f77b4", "size": 34, "opacity": 1, "clip": true},
      "encoding": {
        "x": {"field": "t", "type": "quantitative", "scale": {"domain": [2062.24, 2138.2], "nice": false, "zero": false}, "axis": {"title": "BJD-2454833", "values": [2070, 2080, 2090, 2100, 2110, 2120, 2130], "format": "d"}},
        "y": {"field": "flux", "type": "quantitative", "scale": {"domain": [-0.00149, 0.00151], "nice": false, "zero": false}, "axis": {"title": "Flux", "values": [-0.001, 0, 0.001], "format": ".3f"}}
      }
    }
  ]
}
